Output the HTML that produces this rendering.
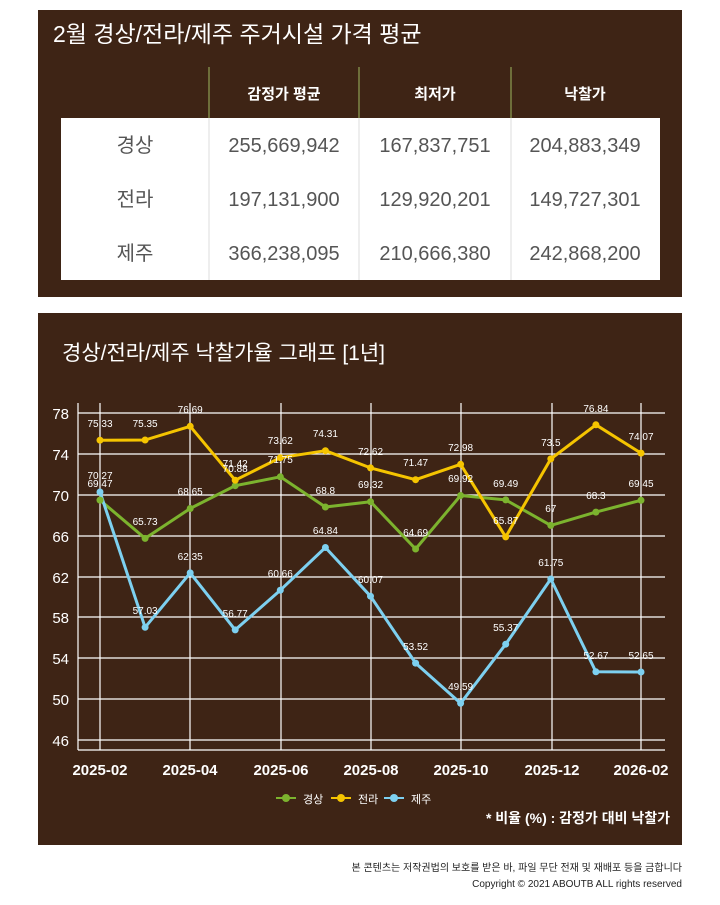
<!DOCTYPE html>
<html><head><meta charset="utf-8"><style>
body{margin:0;background:#fff;width:720px;height:905px;overflow:hidden}
svg{display:block}
</style></head><body>
<svg width="720" height="905" xmlns="http://www.w3.org/2000/svg" font-family="Liberation Sans, Noto Sans CJK KR, NanumGothic, sans-serif">
<rect x="38" y="10" width="644" height="287" fill="#3e2415"/>
<text x="53" y="42" fill="#fff" font-size="23">2월 경상/전라/제주 주거시설 가격 평균</text>
<g stroke="#9fb860" stroke-width="1"><line x1="209" y1="67" x2="209" y2="118"/><line x1="359" y1="67" x2="359" y2="118"/><line x1="511" y1="67" x2="511" y2="118"/></g>
<g fill="#fff" font-size="15" font-weight="bold" text-anchor="middle"><text x="284" y="99">감정가 평균</text><text x="435" y="99">최저가</text><text x="585" y="99">낙찰가</text></g>
<rect x="61" y="118" width="599" height="162" fill="#fff"/>
<g stroke="#ddd"><line x1="209" y1="118" x2="209" y2="280"/><line x1="359" y1="118" x2="359" y2="280"/><line x1="511" y1="118" x2="511" y2="280"/></g>
<g fill="#555" font-size="20" text-anchor="middle">
<text x="135" y="152">경상</text><text x="284" y="152">255,669,942</text><text x="435" y="152">167,837,751</text><text x="585" y="152">204,883,349</text>
<text x="135" y="206">전라</text><text x="284" y="206">197,131,900</text><text x="435" y="206">129,920,201</text><text x="585" y="206">149,727,301</text>
<text x="135" y="260">제주</text><text x="284" y="260">366,238,095</text><text x="435" y="260">210,666,380</text><text x="585" y="260">242,868,200</text>
</g>
<rect x="38" y="313" width="644" height="532" fill="#3e2415"/>
<text x="62" y="360" fill="#fff" font-size="21">경상/전라/제주 낙찰가율 그래프 [1년]</text>
<g stroke="#fff" stroke-width="1.2">
<line x1="78" y1="413" x2="665" y2="413"/><line x1="78" y1="454" x2="665" y2="454"/><line x1="78" y1="495" x2="665" y2="495"/><line x1="78" y1="536" x2="665" y2="536"/><line x1="78" y1="577" x2="665" y2="577"/><line x1="78" y1="617" x2="665" y2="617"/><line x1="78" y1="658" x2="665" y2="658"/><line x1="78" y1="699" x2="665" y2="699"/><line x1="78" y1="740" x2="665" y2="740"/>
<line x1="78" y1="750" x2="665" y2="750"/><line x1="78" y1="403" x2="78" y2="750"/>
<line x1="100" y1="403" x2="100" y2="750"/><line x1="190" y1="403" x2="190" y2="750"/><line x1="281" y1="403" x2="281" y2="750"/><line x1="371" y1="403" x2="371" y2="750"/><line x1="461" y1="403" x2="461" y2="750"/><line x1="552" y1="403" x2="552" y2="750"/><line x1="641" y1="403" x2="641" y2="750"/>
</g>
<g fill="#fff" font-size="15" text-anchor="end">
<text x="69" y="419">78</text><text x="69" y="460">74</text><text x="69" y="501">70</text><text x="69" y="542">66</text><text x="69" y="583">62</text><text x="69" y="623">58</text><text x="69" y="664">54</text><text x="69" y="705">50</text><text x="69" y="746">46</text>
</g>
<g fill="#fff" font-size="15" font-weight="bold" text-anchor="middle">
<text x="100" y="775">2025-02</text><text x="190" y="775">2025-04</text><text x="281" y="775">2025-06</text><text x="371" y="775">2025-08</text><text x="461" y="775">2025-10</text><text x="552" y="775">2025-12</text><text x="641" y="775">2026-02</text>
</g>
<g fill="none" stroke-width="3" stroke-linejoin="round">
<polyline stroke="#7cb32e" points="100,500.1 145.1,538.4 190.2,508.5 235.2,485.7 280.3,476.8 325.4,507 370.5,501.7 415.6,549 460.6,495.5 505.7,499.9 550.8,525.4 595.9,512.1 641,500.3"/>
<polyline stroke="#f5c400" points="100,440.2 145.1,440 190.2,426.3 235.2,480.2 280.3,457.7 325.4,450.7 370.5,467.9 415.6,479.7 460.6,464.3 505.7,536.9 550.8,458.9 595.9,424.8 641,453.1"/>
<polyline stroke="#7dd0f0" points="100,492 145.1,627.3 190.2,572.9 235.2,629.9 280.3,590.2 325.4,547.5 370.5,596.2 415.6,663.1 460.6,703.3 505.7,644.2 550.8,579 595.9,671.8 641,672"/>
</g>
<g fill="#7cb32e"><circle cx="100" cy="500.1" r="3.5"/><circle cx="145.1" cy="538.4" r="3.5"/><circle cx="190.2" cy="508.5" r="3.5"/><circle cx="235.2" cy="485.7" r="3.5"/><circle cx="280.3" cy="476.8" r="3.5"/><circle cx="325.4" cy="507" r="3.5"/><circle cx="370.5" cy="501.7" r="3.5"/><circle cx="415.6" cy="549" r="3.5"/><circle cx="460.6" cy="495.5" r="3.5"/><circle cx="505.7" cy="499.9" r="3.5"/><circle cx="550.8" cy="525.4" r="3.5"/><circle cx="595.9" cy="512.1" r="3.5"/><circle cx="641" cy="500.3" r="3.5"/></g>
<g fill="#f5c400"><circle cx="100" cy="440.2" r="3.5"/><circle cx="145.1" cy="440" r="3.5"/><circle cx="190.2" cy="426.3" r="3.5"/><circle cx="235.2" cy="480.2" r="3.5"/><circle cx="280.3" cy="457.7" r="3.5"/><circle cx="325.4" cy="450.7" r="3.5"/><circle cx="370.5" cy="467.9" r="3.5"/><circle cx="415.6" cy="479.7" r="3.5"/><circle cx="460.6" cy="464.3" r="3.5"/><circle cx="505.7" cy="536.9" r="3.5"/><circle cx="550.8" cy="458.9" r="3.5"/><circle cx="595.9" cy="424.8" r="3.5"/><circle cx="641" cy="453.1" r="3.5"/></g>
<g fill="#7dd0f0"><circle cx="100" cy="492" r="3.5"/><circle cx="145.1" cy="627.3" r="3.5"/><circle cx="190.2" cy="572.9" r="3.5"/><circle cx="235.2" cy="629.9" r="3.5"/><circle cx="280.3" cy="590.2" r="3.5"/><circle cx="325.4" cy="547.5" r="3.5"/><circle cx="370.5" cy="596.2" r="3.5"/><circle cx="415.6" cy="663.1" r="3.5"/><circle cx="460.6" cy="703.3" r="3.5"/><circle cx="505.7" cy="644.2" r="3.5"/><circle cx="550.8" cy="579" r="3.5"/><circle cx="595.9" cy="671.8" r="3.5"/><circle cx="641" cy="672" r="3.5"/></g>
<g fill="#fff" font-size="10" text-anchor="middle">
<text x="100" y="487">69.47</text><text x="145.1" y="525">65.73</text><text x="190.2" y="495">68.65</text><text x="235.2" y="472">70.88</text><text x="280.3" y="463">71.75</text><text x="325.4" y="494">68.8</text><text x="370.5" y="488">69.32</text><text x="415.6" y="536">64.69</text><text x="460.6" y="482">69.92</text><text x="505.7" y="487">69.49</text><text x="550.8" y="512">67</text><text x="595.9" y="499">68.3</text><text x="641" y="487">69.45</text>
<text x="100" y="427">75.33</text><text x="145.1" y="427">75.35</text><text x="190.2" y="413">76.69</text><text x="235.2" y="467">71.42</text><text x="280.3" y="444">73.62</text><text x="325.4" y="437">74.31</text><text x="370.5" y="455">72.62</text><text x="415.6" y="466">71.47</text><text x="460.6" y="451">72.98</text><text x="505.7" y="524">65.87</text><text x="550.8" y="446">73.5</text><text x="595.9" y="412">76.84</text><text x="641" y="440">74.07</text>
<text x="100" y="479">70.27</text><text x="145.1" y="614">57.03</text><text x="190.2" y="560">62.35</text><text x="235.2" y="617">56.77</text><text x="280.3" y="577">60.66</text><text x="325.4" y="534">64.84</text><text x="370.5" y="583">60.07</text><text x="415.6" y="650">53.52</text><text x="460.6" y="690">49.59</text><text x="505.7" y="631">55.37</text><text x="550.8" y="566">61.75</text><text x="595.9" y="659">52.67</text><text x="641" y="659">52.65</text>
</g>
<g fill="#fff">
<line x1="276" y1="798" x2="296" y2="798" stroke="#7cb32e" stroke-width="2"/><circle cx="286" cy="798" r="4" fill="#7cb32e"/><text x="303" y="803" font-size="11">경상</text>
<line x1="331" y1="798" x2="351" y2="798" stroke="#f5c400" stroke-width="2"/><circle cx="341" cy="798" r="4" fill="#f5c400"/><text x="358" y="803" font-size="11">전라</text>
<line x1="384" y1="798" x2="404" y2="798" stroke="#7dd0f0" stroke-width="2"/><circle cx="394" cy="798" r="4" fill="#7dd0f0"/><text x="411" y="803" font-size="11">제주</text>
</g>
<text x="670" y="823" fill="#fff" font-size="14" font-weight="bold" text-anchor="end">* 비율 (%) : 감정가 대비 낙찰가</text>
<text x="682" y="871" fill="#222" font-size="10" text-anchor="end">본 콘텐츠는 저작권법의 보호를 받은 바, 파일 무단 전재 및 재배포 등을 금합니다</text>
<text x="682" y="887" fill="#222" font-size="10" text-anchor="end">Copyright © 2021 ABOUTB ALL rights reserved</text>
</svg>
</body></html>
